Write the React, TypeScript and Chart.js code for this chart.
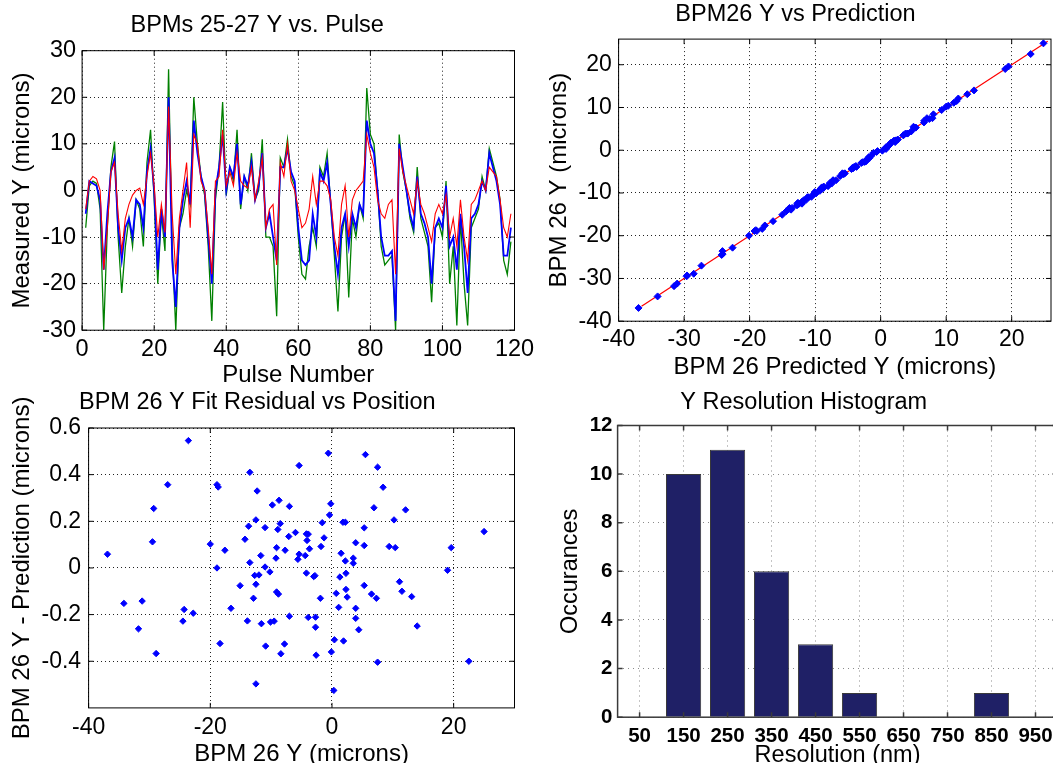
import { useEffect, useRef } from "react";
import { Chart, registerables } from "chart.js";

Chart.register(...registerables);

const FONT = '"Liberation Sans", Arial, Helvetica, sans-serif';

// ---------- Panel A: BPMs 25-27 Y vs. Pulse ----------
const pulseTicks = [0, 20, 40, 60, 80, 100, 120];
const measuredTicks = [-30, -20, -10, 0, 10, 20, 30];
// blue trace (pulses 1..119)
const blueTrace = [
  -5, 2, 1.5, 1, -2, -17, -5, 4, 7, -8,
  -15, -8, -6, -10, -2, -3, -8, 4, 9, 0,
  -17, -4, -10, 20, -15, -25, -8, -2, 2, -3,
  15, 8, 3, 0, -10, -20, 0, 5, 12, 0,
  5, 3, 10, -3, 3, 1, 6, -2, 1, 8,
  -8, -5, -10, -15, 5, 5, 9, 4, 2, -8,
  -15, -16, -15, -5, -10, 4, 2, 6, -3, -12,
  -18, -8, -5, -12, -5, -8, -3, -5, 15, 10,
  8, 0, -10, -14, -14, -13, -28, 10, 5, 0,
  -5, -8, 3, -5, -7, -10, -20, -8, -6, -8,
  1, -12, -10, -17, -5, -12, -22, -6, -5, -3,
  2, 0, 8, 5, 2, -3, -14, -14, -8,
];
// green trace
const greenTrace = [
  -8, 1, 2, 1.5, -4, -30, -8, 5, 10.5, -10,
  -22, -12, -6, -12, -2, -4, -12, 6, 13, -2,
  -20, -5, -13, 26, -12, -30, -8, -5, 0, -3,
  20, 10, 3, -1, -12, -28, -2, 5, 19, -1,
  5, 2, 13, -4, 3, 0, 8, -2, 0, 11,
  -10, -10, -12, -27, 7, 5, 11, 3, 1, -10,
  -18, -19, -12, -8, -12, 5, 3, 8, -3, -14,
  -26, -10, -5, -23, -6, -10, -3, -6, 22, 12,
  10, 0, -12, -16, -15, -14, -30, 12, 4, 0,
  -6, -9, 5, -6, -9, -12, -24, -8, -7, -10,
  2, -20, -12, -29, -6, -20, -29, -8, -6, -4,
  3, 0, 9, 6, 3, -2, -15, -18, -11,
];
// red trace
const redTrace = [
  -4, 2, 3, 2.5, 0, -17, -8, 4, 6, -5,
  -13, -6, -3, -1, 0, 0.5, -3, 3, 8, 1,
  -10, -3, -9, 18, -5, -18, -6, 0, 6, -8,
  12, 10, 2, 0, -8, -18, 2, 3, 13, 1,
  4, 1, 8, 2, 1, 0.5, 5, -2, 2, 7,
  -8, -4, -3, -16, 6, 3, 10, 2, 0, -4,
  -8, -7, -4, 3, -3, 2, 2, 1, -2, -10,
  -14, -3, 1, -10, -2, 0, 1, 2, 12, 8,
  5, -2, -5, -6, -3, -2, -18, 9, 4, 1,
  -2, -5, 2, -3, -5, -8, -11, -5, -3, -5,
  -1, -10, -6, -12, -2, -10, -15, -3, -2, 0,
  2, 0, 5, 4, 3, -2, -8, -10, -5,
];

// ---------- Panel C: BPM 26 Y Fit Residual vs Position ----------
const positionTicks = [-40, -20, 0, 20];
const residualTicks = [-0.4, -0.2, 0, 0.2, 0.4, 0.6];
const bpm26Y = [
  -36.9, -34.2, -31.2, -31.8, -29.5, -29.3, -28.9, -27.0, -24.3, -24.5,
  -22.8, -23.6, -20.0, -18.9, -18.9, -18.7, -18.4, -17.6, -16.6, -15.1,
  -14.3, -13.7, -13.9, -13.5, -13.5, -12.9, -12.7, -12.5, -12.5, -12.5,
  -12.3, -12.0, -11.7, -11.6, -11.0, -11.0, -10.9, -10.2, -10.1, -9.8,
  -9.5, -9.2, -9.1, -9.1, -8.8, -8.9, -8.7, -8.4, -8.5, -7.8,
  -7.7, -7.1, -7.0, -7.0, -6.0, -5.6, -5.4, -5.4, -4.4, -4.2,
  -4.2, -4.1, -3.9, -3.9, -3.7, -3.0, -2.8, -2.7, -2.7, -2.6,
  -1.8, -1.9, -1.6, -1.3, -0.6, -0.4, -0.2, -0.1, 0.3, 0.4,
  0.7, 1.1, 1.3, 1.5, 1.8, 1.9, 2.2, 2.2, 2.3, 2.3,
  2.5, 3.5, 3.5, 3.9, 3.9, 3.9, 4.4, 5.3, 5.3, 5.3,
  5.5, 6.5, 6.9, 7.3, 7.5, 7.5, 8.4, 9.4, 10.4, 10.2,
  11.1, 11.5, 12.1, 13.1, 14.0, 19.0, 19.6, 22.5, 25.0,
];
const fitResidual = [
  0.059, -0.152, -0.142, -0.261, 0.112, 0.255, -0.367, 0.357, -0.178, -0.228,
  -0.194, 0.546, 0.102, 0.0, 0.357, 0.347, -0.324, 0.076, -0.173, -0.076,
  0.123, 0.179, -0.227, 0.023, 0.41, -0.13, -0.032, 0.206, -0.07, -0.497,
  0.33, -0.03, 0.053, -0.239, 0.173, 0.004, -0.335, -0.017, -0.232, 0.27,
  -0.228, 0.042, 0.087, -0.103, -0.112, 0.165, 0.29, -0.368, 0.19, -0.326,
  0.076, 0.135, 0.264, -0.207, 0.152, 0.037, 0.059, 0.439, 0.053, 0.146,
  -0.022, 0.118, 0.145, -0.212, 0.082, -0.037, -0.033, -0.211, -0.254, -0.374,
  0.092, -0.13, 0.194, 0.129, 0.492, 0.227, 0.275, -0.36, -0.525, -0.308,
  -0.109, -0.169, -0.039, 0.063, 0.196, -0.313, 0.03, 0.196, -0.023, -0.092,
  -0.125, 0.042, 0.02, 0.108, -0.173, -0.216, -0.265, 0.096, 0.172, -0.075,
  0.486, -0.112, 0.258, -0.13, 0.432, -0.404, 0.346, 0.092, 0.087, 0.206,
  -0.059, -0.1, 0.249, -0.123, -0.249, -0.01, 0.087, -0.4, 0.156,
];

// ---------- Panel B: BPM26 Y vs Prediction ----------
const predTicks = [-40, -30, -20, -10, 0, 10, 20];
const fitLineX = [-36.5, 25.5];
const fitLineY = [-36.5, 25.5];

// ---------- Panel D: Y Resolution Histogram ----------
const resolutionBins = ["50", "150", "250", "350", "450", "550", "650", "750", "850", "950"];
const occurrences = [0, 10, 11, 6, 3, 1, 0, 0, 1, 0];
const occurrenceTicks = [0, 2, 4, 6, 8, 10, 12];

type Geo = {
  left: number; top: number; width: number; height: number;
  L: number; R: number; T: number; B: number;
  titleY: number; yLabelX: number; yTickGap: number; xTickY: number; xLabelY: number;
  xAxisH: number; titleSize: number; tickSize: number; labelSize: number;
  tickBold?: boolean; gridColor: string; gridDash: number[];
};

const boxPlugin = {
  id: "mBox",
  afterDatasetsDraw(chart: any, _a: any, opts: any) {
    const { ctx, chartArea: a, scales } = chart;
    const xs = scales.x, ys = scales.y;
    const len = 5;
    ctx.save();
    ctx.setLineDash([]);
    ctx.strokeStyle = opts.color || "#000";
    ctx.lineWidth = opts.width || 1;
    ctx.beginPath();
    xs.ticks.forEach((_t: any, i: number) => {
      const px = xs.getPixelForTick(i);
      ctx.moveTo(px, a.bottom); ctx.lineTo(px, a.bottom - len);
      ctx.moveTo(px, a.top); ctx.lineTo(px, a.top + len);
    });
    ys.ticks.forEach((_t: any, i: number) => {
      const py = ys.getPixelForTick(i);
      ctx.moveTo(a.left, py); ctx.lineTo(a.left + len, py);
      ctx.moveTo(a.right, py); ctx.lineTo(a.right - len, py);
    });
    ctx.stroke();
    ctx.strokeRect(a.left, a.top, a.right - a.left, a.bottom - a.top);
    ctx.restore();
  },
};

function frame(g: Geo, titleText: string, xTitle: string, yTitle: string, xTickVals: number[] | null, yTickVals: number[]) {
  const tickLH = g.tickSize * 1.2;
  const labLH = g.labelSize * 1.2;
  const titLH = g.titleSize;
  const tTop = g.titleY - g.top - titLH / 2;
  const tBottom = g.T - g.top - tTop - titLH;
  const yW = g.L - g.left;
  const tickFont = { family: FONT, size: g.tickSize, weight: g.tickBold ? "bold" : "normal", lineHeight: 1.2 } as any;
  const labFont = { family: FONT, size: g.labelSize, lineHeight: 1.2 };
  const layout = {
    padding: {
      left: 0,
      top: 0,
      right: g.left + g.width - g.R,
      bottom: g.top + g.height - g.B - g.xAxisH,
    },
  };
  const title = {
    display: true,
    text: titleText,
    color: "#000",
    font: { family: FONT, size: g.titleSize, weight: "normal", lineHeight: 1 } as any,
    padding: { top: tTop, bottom: tBottom },
  };
  const x: any = {
    afterFit: (s: any) => { s.height = g.xAxisH; },
    ticks: { font: tickFont, color: "#000", padding: g.xTickY - g.B - tickLH / 2, maxRotation: 0, autoSkip: false },
    grid: { drawTicks: false, color: g.gridColor, lineWidth: 1 },
    border: { display: false, dash: g.gridDash },
    title: { display: true, text: xTitle, color: "#000", font: labFont, padding: { top: 0, bottom: g.B + g.xAxisH - g.xLabelY - labLH / 2 } },
  };
  if (xTickVals) {
    x.afterBuildTicks = (s: any) => { s.ticks = xTickVals.map((v) => ({ value: v })); };
  }
  const y: any = {
    afterFit: (s: any) => { s.width = yW; },
    afterBuildTicks: (s: any) => { s.ticks = yTickVals.map((v) => ({ value: v })); },
    ticks: { font: tickFont, color: "#000", padding: g.yTickGap, autoSkip: false },
    grid: { drawTicks: false, color: g.gridColor, lineWidth: 1 },
    border: { display: false, dash: g.gridDash },
    title: { display: true, text: yTitle, color: "#000", font: labFont, padding: { top: g.yLabelX - g.left - labLH / 2, bottom: 0 } },
  };
  return { layout, title, x, y };
}

const geoA: Geo = {
  left: 0, top: 0, width: 593, height: 391,
  L: 82.1, R: 514.5, T: 50.7, B: 330.2,
  titleY: 25.5, yLabelX: 22, yTickGap: 6, xTickY: 349.5, xLabelY: 375.8, xAxisH: 60,
  titleSize: 23.5, tickSize: 23.5, labelSize: 24, gridColor: "#222", gridDash: [1, 3],
};
const geoB: Geo = {
  left: 540, top: 0, width: 589, height: 384,
  L: 618.6, R: 1051, T: 39.1, B: 321.2,
  titleY: 14.5, yLabelX: 559.1, yTickGap: 6.8, xTickY: 339.6, xLabelY: 367.8, xAxisH: 62,
  titleSize: 23.5, tickSize: 23, labelSize: 24, gridColor: "#222", gridDash: [1, 3],
};
const geoC: Geo = {
  left: 0, top: 380, width: 598, height: 390,
  L: 88.6, R: 514.5, T: 428, B: 707.9,
  titleY: 402.6, yLabelX: 22, yTickGap: 7.5, xTickY: 727.8, xLabelY: 754, xAxisH: 62,
  titleSize: 23.5, tickSize: 23, labelSize: 24, gridColor: "#222", gridDash: [1, 3],
};
const geoD: Geo = {
  left: 550, top: 380, width: 578, height: 393,
  L: 617.6, R: 1057.5, T: 425.5, B: 717.2,
  titleY: 402.6, yLabelX: 571, yTickGap: 5.1, xTickY: 736, xLabelY: 755.6, xAxisH: 55,
  titleSize: 23.5, tickSize: 20.5, labelSize: 23.5, tickBold: true, gridColor: "#8a8a8a", gridDash: [1, 4],
};

function configA(): any {
  const f = frame(geoA, "BPMs 25-27 Y vs. Pulse", "Pulse Number", "Measured Y (microns)", pulseTicks, measuredTicks);
  const toXY = (arr: number[]) => arr.map((v, i) => ({ x: i + 1, y: v }));
  return {
    type: "line",
    data: {
      datasets: [
        { data: toXY(greenTrace), borderColor: "#008000", borderWidth: 1.3, pointRadius: 0, order: 3 },
        { data: toXY(blueTrace), borderColor: "#0000ff", borderWidth: 1.8, pointRadius: 0, order: 2 },
        { data: toXY(redTrace), borderColor: "#ff0000", borderWidth: 1.1, pointRadius: 0, order: 1 },
      ],
    },
    options: {
      responsive: false, animation: false, devicePixelRatio: 1,
      layout: f.layout,
      plugins: { legend: { display: false }, tooltip: { enabled: false }, title: f.title, mBox: { color: "#000", width: 1 } },
      scales: {
        x: { ...f.x, type: "linear", min: 0, max: 120 },
        y: { ...f.y, type: "linear", min: -30, max: 30 },
      },
    },
    plugins: [boxPlugin],
  };
}

function configB(): any {
  const f = frame(geoB, "BPM26 Y vs Prediction", "BPM 26 Predicted Y (microns)", "BPM 26 Y (microns)", predTicks, predTicks);
  const pts = bpm26Y.map((v, i) => ({ x: v - fitResidual[i], y: v }));
  return {
    type: "scatter",
    data: {
      datasets: [
        { data: fitLineX.map((v, i) => ({ x: v, y: fitLineY[i] })), showLine: true, borderColor: "#ff0000", borderWidth: 1.2, pointRadius: 0, order: 2 },
        { data: pts, pointStyle: "rectRot", pointRadius: 3.5, backgroundColor: "#0000ff", borderColor: "#0000ff", borderWidth: 1, order: 1 },
      ],
    },
    options: {
      responsive: false, animation: false, devicePixelRatio: 1,
      layout: f.layout,
      plugins: { legend: { display: false }, tooltip: { enabled: false }, title: f.title, mBox: { color: "#000", width: 1 } },
      scales: {
        x: { ...f.x, type: "linear", min: -40, max: 26 },
        y: { ...f.y, type: "linear", min: -40, max: 26 },
      },
    },
    plugins: [boxPlugin],
  };
}

function configC(): any {
  const f = frame(geoC, "BPM 26 Y Fit Residual vs Position", "BPM 26 Y (microns)", "BPM 26 Y - Prediction (microns)", positionTicks, residualTicks);
  return {
    type: "scatter",
    data: {
      datasets: [
        { data: bpm26Y.map((v, i) => ({ x: v, y: fitResidual[i] })), pointStyle: "rectRot", pointRadius: 3.2, backgroundColor: "#0000ff", borderColor: "#0000ff", borderWidth: 1 },
      ],
    },
    options: {
      responsive: false, animation: false, devicePixelRatio: 1,
      layout: f.layout,
      plugins: { legend: { display: false }, tooltip: { enabled: false }, title: f.title, mBox: { color: "#000", width: 1 } },
      scales: {
        x: { ...f.x, type: "linear", min: -40, max: 30 },
        y: { ...f.y, type: "linear", min: -0.6, max: 0.6 },
      },
    },
    plugins: [boxPlugin],
  };
}

function configD(): any {
  const f = frame(geoD, "Y Resolution Histogram", "Resolution (nm)", "Occurances", null, occurrenceTicks);
  return {
    type: "bar",
    data: {
      labels: resolutionBins,
      datasets: [
        { data: occurrences, backgroundColor: "#1f2066", borderColor: "#3a3a3a", borderWidth: 1, categoryPercentage: 1, barPercentage: 0.8 },
      ],
    },
    options: {
      responsive: false, animation: false, devicePixelRatio: 1,
      layout: f.layout,
      plugins: { legend: { display: false }, tooltip: { enabled: false }, title: f.title, mBox: { color: "#3a3a3a", width: 1.5 } },
      scales: {
        x: { ...f.x, type: "category", offset: true, grid: { ...f.x.grid, offset: false } },
        y: { ...f.y, type: "linear", min: 0, max: 12 },
      },
    },
    plugins: [boxPlugin],
  };
}

export default function App() {
  const refA = useRef<HTMLCanvasElement>(null);
  const refB = useRef<HTMLCanvasElement>(null);
  const refC = useRef<HTMLCanvasElement>(null);
  const refD = useRef<HTMLCanvasElement>(null);

  useEffect(() => {
    const charts = [
      new Chart(refA.current!, configA()),
      new Chart(refB.current!, configB()),
      new Chart(refC.current!, configC()),
      new Chart(refD.current!, configD()),
    ];
    return () => charts.forEach((c) => c.destroy());
  }, []);

  const cv = (g: Geo, ref: any) => (
    <canvas
      ref={ref}
      width={g.width}
      height={g.height}
      style={{ position: "absolute", left: g.left, top: g.top, width: g.width, height: g.height, display: "block" }}
    />
  );

  return (
    <div style={{ position: "fixed", left: 0, top: 0, width: 1053, height: 763, overflow: "hidden", background: "#fff" }}>
      {cv(geoA, refA)}
      {cv(geoB, refB)}
      {cv(geoC, refC)}
      {cv(geoD, refD)}
    </div>
  );
}
